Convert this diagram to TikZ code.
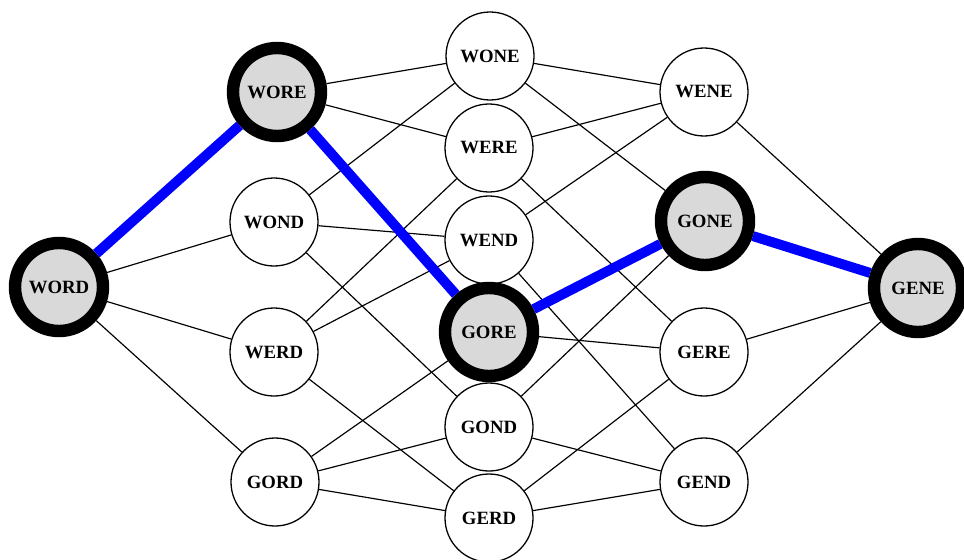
\documentclass[tikz,border=0pt]{standalone}
\usepackage{fontspec}
\setmainfont{Liberation Serif}
\begin{document}
\begin{tikzpicture}[x=0.03cm,y=-0.03cm,
  word/.style={circle,draw=black,line width=1.1pt,fill=white,minimum size=2.64cm,inner sep=0pt,
    font=\fontsize{16}{18}\selectfont\bfseries},
  hot/.style={word,line width=10.6pt,fill=black!15},
  edge/.style={line width=1pt,black},
  path/.style={line width=8.5pt,blue}]
\useasboundingbox (0,0) rectangle (964,559);
% nodes
\node[hot]  (WORD) at (59,287) {WORD};
\node[hot]  (WORE) at (277,92) {WORE};
\node[word] (WOND) at (274,222) {WOND};
\node[word] (WERD) at (274,352) {WERD};
\node[word] (GORD) at (275,482) {GORD};
\node[word] (WONE) at (490,56) {WONE};
\node[word] (WERE) at (489,148) {WERE};
\node[word] (WEND) at (489,240) {WEND};
\node[hot]  (GORE) at (489,332) {GORE};
\node[word] (GOND) at (489,427) {GOND};
\node[word] (GERD) at (489,518) {GERD};
\node[word] (WENE) at (704,92) {WENE};
\node[hot]  (GONE) at (705,221) {GONE};
\node[word] (GERE) at (704,352) {GERE};
\node[word] (GEND) at (704,482) {GEND};
\node[hot]  (GENE) at (918,288) {GENE};
% edges
\foreach \a/\b in {WORD/WOND,WORD/WERD,WORD/GORD,
  WORE/WONE,WORE/WERE,
  WOND/WONE,WOND/WEND,WOND/GOND,
  WERD/WERE,WERD/WEND,WERD/GERD,
  GORD/GORE,GORD/GOND,GORD/GERD,
  WONE/WENE,WONE/GONE,
  WERE/WENE,WERE/GERE,
  WEND/WENE,WEND/GEND,
  GORE/GERE,
  GOND/GONE,GOND/GEND,
  GERD/GERE,GERD/GEND,
  WENE/GENE,GERE/GENE,GEND/GENE}
  \draw[edge] (\a) -- (\b);
\foreach \a/\b in {WORD/WORE,WORE/GORE,GORE/GONE,GONE/GENE}
  \draw[path] (\a) -- (\b);
\end{tikzpicture}
\end{document}
